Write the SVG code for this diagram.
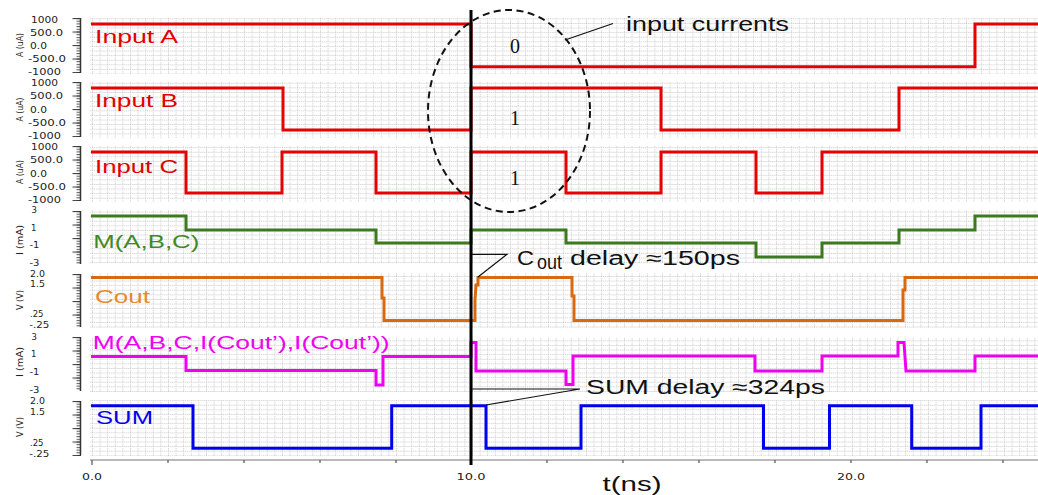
<svg xmlns="http://www.w3.org/2000/svg" width="1038" height="495" viewBox="0 0 1038 495">
<style>
.wave{fill:none;stroke-width:3;stroke-linejoin:miter}
.tl{font-family:"DejaVu Sans",sans-serif;font-size:8.5px;fill:#222}
.yt{font-family:"DejaVu Sans",sans-serif;font-size:8px;fill:#222;text-anchor:middle}
.lab{font-family:"Liberation Sans",Arial,sans-serif;font-size:18px}
.ann{font-family:"Liberation Sans",Arial,sans-serif;font-size:20px;fill:#111}
.bit{font-family:"Liberation Serif","Times New Roman",serif;font-size:20px;fill:#111;text-anchor:middle}
.lead{stroke:#111;stroke-width:1.2;fill:none}
.grid{fill:url(#grid)}
.rt{fill:url(#tk)}
.rtL{fill:url(#tkL)}
.rl{stroke:#333;stroke-width:1.5}
.ax{font-family:"DejaVu Sans",sans-serif;font-size:9px;fill:#222;text-anchor:middle}
</style>
<defs>
<pattern id="grid" x="92" y="0" width="7.6" height="4.6" patternUnits="userSpaceOnUse">
<rect width="7.6" height="4.6" fill="#fff"/>
<path d="M0 0.5H7.6" stroke="#c8c8c8" stroke-width="1" stroke-dasharray="1 1"/>
<path d="M0.5 0V4.6" stroke="#c8c8c8" stroke-width="1" stroke-dasharray="1 1"/>
</pattern>
<pattern id="tk" width="10" height="2.7" patternUnits="userSpaceOnUse"><path d="M5.5 0.6H10" stroke="#333" stroke-width="0.9"/></pattern>
<pattern id="tkL" width="10" height="13.5" patternUnits="userSpaceOnUse"><path d="M1.5 0.6H10" stroke="#333" stroke-width="1"/></pattern>
</defs>
<rect width="1038" height="495" fill="#fff"/>

<g id="panel-input-a">
<rect class="grid" x="90" y="18" width="948" height="56"/>
<g transform="translate(71,18)"><rect class="rt" width="10" height="55"/><rect class="rtL" width="10" height="55"/><path class="rl" d="M9.5 0V55"/></g>
<text class="tl" x="31" y="22.7" textLength="27" lengthAdjust="spacingAndGlyphs">1000</text>
<text class="tl" x="30" y="35.7" textLength="33" lengthAdjust="spacingAndGlyphs">500.0</text>
<text class="tl" x="30" y="48.5" textLength="17" lengthAdjust="spacingAndGlyphs">0.0</text>
<text class="tl" x="28" y="62.3" textLength="38" lengthAdjust="spacingAndGlyphs">-500.0</text>
<text class="tl" x="28" y="75" textLength="33" lengthAdjust="spacingAndGlyphs">-1000</text>
<text class="yt" transform="translate(23,45) rotate(-90)" textLength="24" lengthAdjust="spacingAndGlyphs">A (uA)</text>
<path class="wave" stroke="#e60000" d="M91 24H471V66.7H975V24H1038"/>
<text class="lab" x="95" y="43.3" fill="#e00000" textLength="83" lengthAdjust="spacingAndGlyphs">Input A</text>
</g>

<g id="panel-input-b">
<rect class="grid" x="90" y="82" width="948" height="56"/>
<g transform="translate(71,82)"><rect class="rt" width="10" height="55"/><rect class="rtL" width="10" height="55"/><path class="rl" d="M9.5 0V55"/></g>
<text class="tl" x="31" y="86" textLength="27" lengthAdjust="spacingAndGlyphs">1000</text>
<text class="tl" x="30" y="99.3" textLength="33" lengthAdjust="spacingAndGlyphs">500.0</text>
<text class="tl" x="30" y="112.6" textLength="17" lengthAdjust="spacingAndGlyphs">0.0</text>
<text class="tl" x="28" y="126" textLength="38" lengthAdjust="spacingAndGlyphs">-500.0</text>
<text class="tl" x="28" y="139" textLength="33" lengthAdjust="spacingAndGlyphs">-1000</text>
<text class="yt" transform="translate(23,109.5) rotate(-90)" textLength="24" lengthAdjust="spacingAndGlyphs">A (uA)</text>
<path class="wave" stroke="#e60000" d="M91 88H283V130H471V88H661V130H899V88H1038"/>
<text class="lab" x="95" y="106.7" fill="#e00000" textLength="83" lengthAdjust="spacingAndGlyphs">Input B</text>
</g>

<g id="panel-input-c">
<rect class="grid" x="90" y="146" width="948" height="56"/>
<g transform="translate(71,146)"><rect class="rt" width="10" height="55"/><rect class="rtL" width="10" height="55"/><path class="rl" d="M9.5 0V55"/></g>
<text class="tl" x="31" y="150" textLength="27" lengthAdjust="spacingAndGlyphs">1000</text>
<text class="tl" x="30" y="163.3" textLength="33" lengthAdjust="spacingAndGlyphs">500.0</text>
<text class="tl" x="30" y="176.7" textLength="17" lengthAdjust="spacingAndGlyphs">0.0</text>
<text class="tl" x="28" y="190" textLength="38" lengthAdjust="spacingAndGlyphs">-500.0</text>
<text class="tl" x="28" y="203.3" textLength="33" lengthAdjust="spacingAndGlyphs">-1000</text>
<text class="yt" transform="translate(23,172) rotate(-90)" textLength="24" lengthAdjust="spacingAndGlyphs">A (uA)</text>
<path class="wave" stroke="#e60000" d="M91 152H186V193H282V152H376V193H471V152H566V193H661V152H756V193H822V152H1038"/>
<text class="lab" x="95" y="172.7" fill="#e00000" textLength="83" lengthAdjust="spacingAndGlyphs">Input C</text>
</g>

<g id="panel-majority">
<rect class="grid" x="90" y="210" width="948" height="54"/>
<g transform="translate(71,211)"><rect class="rt" width="10" height="53"/><rect class="rtL" width="10" height="53"/><path class="rl" d="M9.5 0V53"/></g>
<text class="tl" x="31.5" y="213.3">3</text>
<text class="tl" x="31" y="231">1</text>
<text class="tl" x="29.5" y="247.7" textLength="10" lengthAdjust="spacingAndGlyphs">-1</text>
<text class="tl" x="29.5" y="266" textLength="10" lengthAdjust="spacingAndGlyphs">-3</text>
<text class="yt" transform="translate(23,240) rotate(-90)" textLength="30" lengthAdjust="spacingAndGlyphs">I (mA)</text>
<path class="wave" stroke="#3b7a1e" d="M91 216H186V230H376V243H471V230H566V243H756V257H822V243H899V230H975V216H1038"/>
<text class="lab" x="93.3" y="247.7" fill="#3f8a27" textLength="106" lengthAdjust="spacingAndGlyphs">M(A,B,C)</text>
</g>

<g id="panel-cout">
<rect class="grid" x="90" y="273" width="948" height="55"/>
<g transform="translate(71,274)"><rect class="rt" width="10" height="54"/><rect class="rtL" width="10" height="54"/><path class="rl" d="M9.5 0V53"/></g>
<text class="tl" x="30" y="277.3" textLength="15" lengthAdjust="spacingAndGlyphs">2.0</text>
<text class="tl" x="30" y="287.3" textLength="15" lengthAdjust="spacingAndGlyphs">1.5</text>
<text class="tl" x="30" y="317.3" textLength="13.5" lengthAdjust="spacingAndGlyphs">.25</text>
<text class="tl" x="29.3" y="328.3" textLength="20" lengthAdjust="spacingAndGlyphs">-.25</text>
<text class="yt" transform="translate(23,300) rotate(-90)" textLength="20" lengthAdjust="spacingAndGlyphs">V (V)</text>
<path class="wave" stroke="#d9690f" d="M91 277.5H382V298H384V320.5H475V300L476 285H478V277.5H572V296H574V320.5H903V290H905V277.5H1038"/>
<text class="lab" x="95" y="302.7" fill="#e8892f" textLength="55" lengthAdjust="spacingAndGlyphs">Cout</text>
</g>

<g id="panel-sum-majority">
<rect class="grid" x="90" y="337" width="948" height="55"/>
<g transform="translate(71,337)"><rect class="rt" width="10" height="54"/><rect class="rtL" width="10" height="54"/><path class="rl" d="M9.5 0V54"/></g>
<text class="tl" x="31.5" y="340">3</text>
<text class="tl" x="31" y="357.3">1</text>
<text class="tl" x="29.5" y="375" textLength="10" lengthAdjust="spacingAndGlyphs">-1</text>
<text class="tl" x="29.5" y="393.3" textLength="10" lengthAdjust="spacingAndGlyphs">-3</text>
<text class="yt" transform="translate(23,362) rotate(-90)" textLength="30" lengthAdjust="spacingAndGlyphs">I (mA)</text>
<path class="wave" stroke="#f000f0" d="M91 356.5H186V370.5H376V385H383V356.5H471V342.5H476V371H566V384.5H573V356H755V371H822V356H898V342.5H904L906 371H975V356H1038"/>
<text class="lab" x="92.7" y="349.3" fill="#f000f0" textLength="297" lengthAdjust="spacingAndGlyphs">M(A,B,C,I(Cout’),I(Cout’))</text>
</g>

<g id="panel-sum">
<rect class="grid" x="90" y="400" width="948" height="56"/>
<g transform="translate(71,401)"><rect class="rt" width="10" height="55"/><rect class="rtL" width="10" height="55"/><path class="rl" d="M9.5 0V54"/></g>
<text class="tl" x="30" y="404" textLength="15" lengthAdjust="spacingAndGlyphs">2.0</text>
<text class="tl" x="30" y="415" textLength="15" lengthAdjust="spacingAndGlyphs">1.5</text>
<text class="tl" x="30" y="445.7" textLength="13.5" lengthAdjust="spacingAndGlyphs">.25</text>
<text class="tl" x="29.3" y="456.7" textLength="20" lengthAdjust="spacingAndGlyphs">-.25</text>
<text class="yt" transform="translate(23,427) rotate(-90)" textLength="20" lengthAdjust="spacingAndGlyphs">V (V)</text>
<path class="wave" stroke="#0000ee" d="M91 405.7H193V448.3H391.7V405.7H486V448.3H581V405.7H763.5V448.3H829.5V405.7H911.7V448.3H981V405.7H1038"/>
<text class="lab" x="96" y="424" fill="#0000ee" textLength="57" lengthAdjust="spacingAndGlyphs">SUM</text>
</g>

<g id="time-axis">
<path d="M90 460H1038" stroke="#777" stroke-width="1.2"/>
<path d="M92 460v5M168 460v3M244 460v3M320 460v3M396 460v3M471 460v3M547 460v3M623 460v3M699 460v3M775 460v3M851 460v3M927 460v3M1003 460v3" stroke="#555" stroke-width="1.2"/>
<text class="ax" x="92" y="480" textLength="20" lengthAdjust="spacingAndGlyphs">0.0</text>
<text class="ax" x="471" y="480" textLength="29" lengthAdjust="spacingAndGlyphs">10.0</text>
<text class="ax" x="851" y="480" textLength="28" lengthAdjust="spacingAndGlyphs">20.0</text>
<text x="632" y="491" font-family="'Liberation Sans',Arial,sans-serif" font-size="21" fill="#111" text-anchor="middle" textLength="59" lengthAdjust="spacingAndGlyphs">t(ns)</text>
</g>

<g id="marker-10ns">
<path d="M471 10V465" stroke="#000" stroke-width="3"/>
</g>

<g id="input-currents-group">
<ellipse cx="509" cy="111" rx="81" ry="101" fill="none" stroke="#111" stroke-width="2" stroke-dasharray="7 4.5"/>
<text class="bit" x="515" y="53.3">0</text>
<text class="bit" x="515" y="125">1</text>
<text class="bit" x="515" y="185">1</text>
</g>

<g id="label-input-currents">
<text class="ann" x="626" y="31" font-size="21" textLength="163" lengthAdjust="spacingAndGlyphs">input currents</text>
</g>

<g id="label-cout-delay">
<text class="ann" x="517" y="265" textLength="17" lengthAdjust="spacingAndGlyphs">C</text>
<text class="ann" x="537" y="269" font-size="14" textLength="25" lengthAdjust="spacingAndGlyphs">out</text>
<text class="ann" x="570" y="265" textLength="170" lengthAdjust="spacingAndGlyphs">delay ≈150ps</text>
</g>

<g id="label-sum-delay">
<text class="ann" x="586" y="394" textLength="239" lengthAdjust="spacingAndGlyphs">SUM delay ≈324ps</text>
</g>

<g id="connectors">
<path class="lead" d="M565 40L613 23.5"/>
<path class="lead" d="M472 254.3H507L478 277"/>
<path class="lead" d="M472 389H580L486 405"/>
</g>
</svg>
